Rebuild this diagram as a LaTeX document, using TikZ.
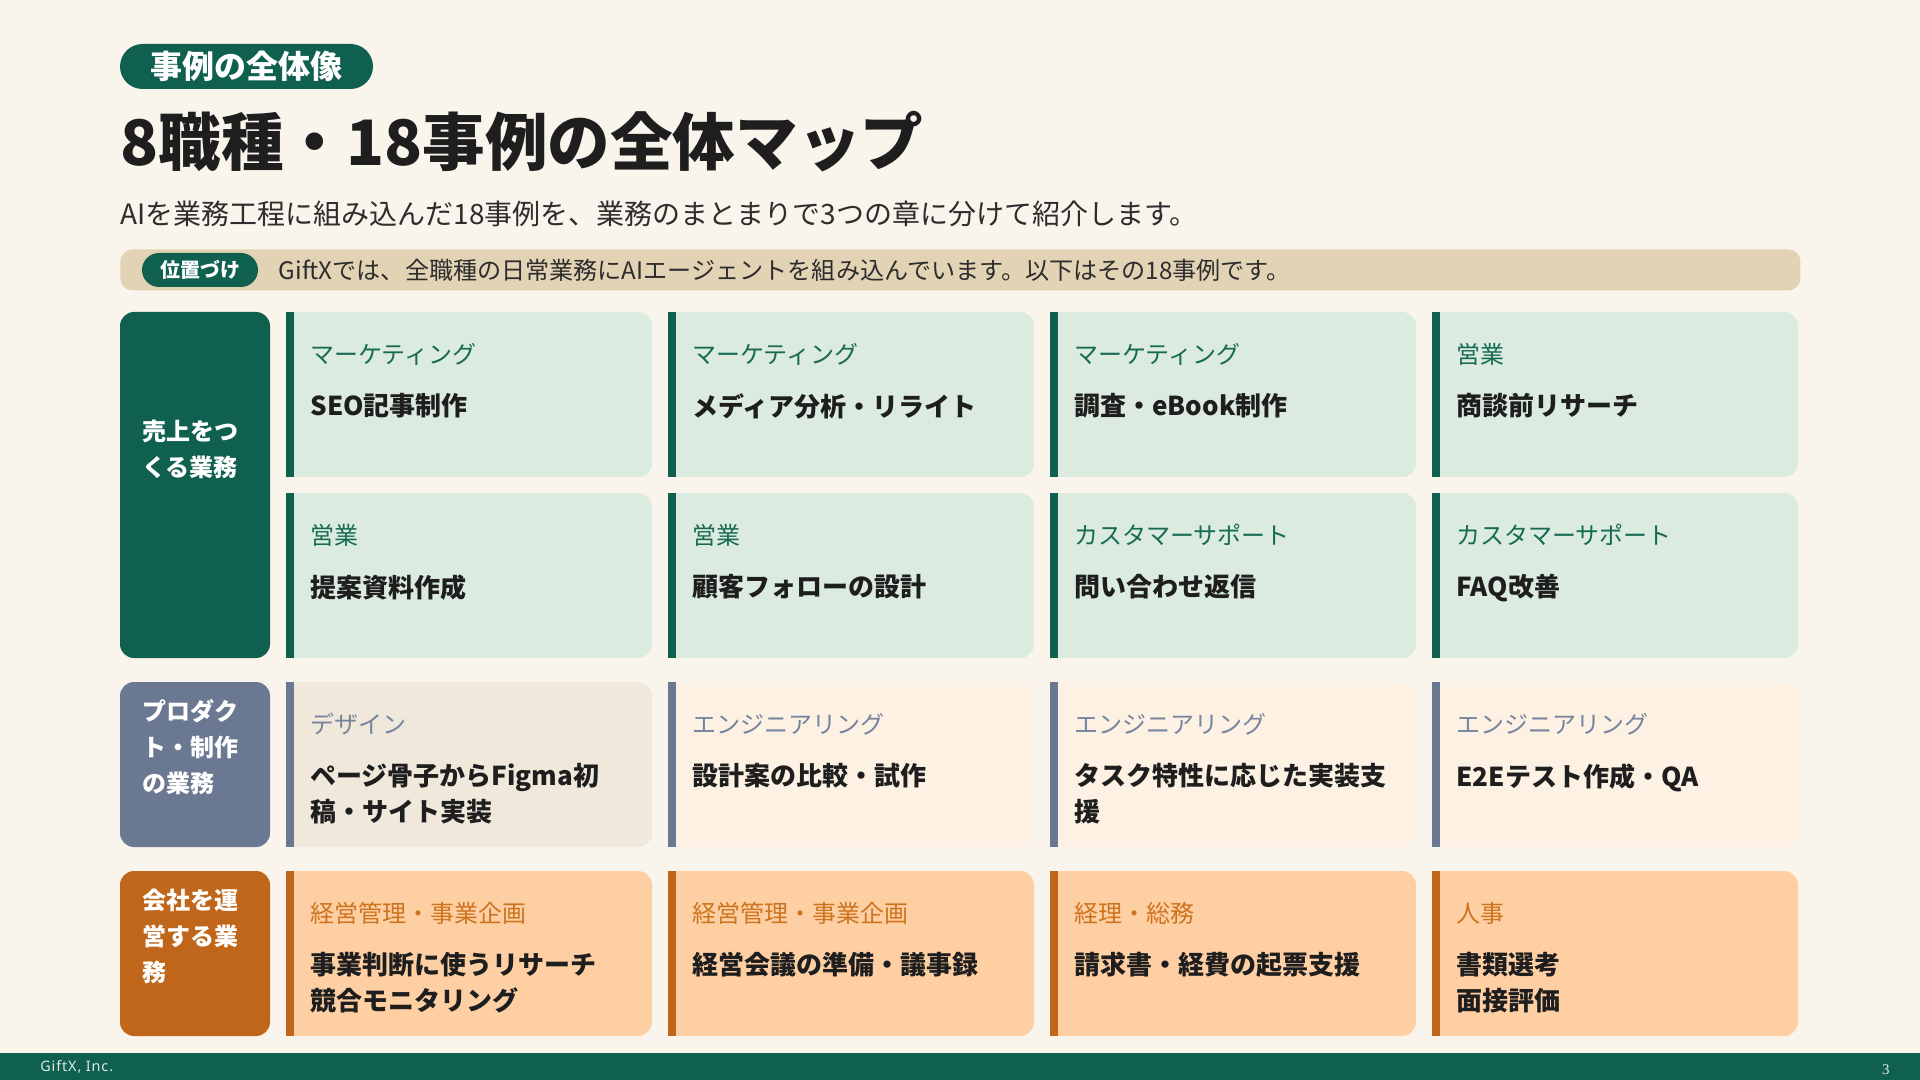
\documentclass[tikz,border=0pt]{standalone}
\usepackage{fontspec}
\setmainfont{Noto Sans CJK JP}
\newfontfamily\footfont[LetterSpace=6]{Noto Sans}
\newfontfamily\pagefont{Liberation Serif}
\usepackage{tikz}
\usetikzlibrary{
  positioning
}
\definecolor{bgcream}{RGB}{249,244,236}
\definecolor{brandgreen}{RGB}{16,96,80}
\definecolor{sandfill}{RGB}{227,211,181}
\definecolor{inktext}{RGB}{30,30,30}
\definecolor{subtext}{RGB}{45,45,45}
\definecolor{footink}{RGB}{222,234,228}
% one colour set per track
\definecolor{salesfill}{RGB}{219,235,223}
\definecolor{salesbar}{RGB}{16,96,80}
\definecolor{salesjob}{RGB}{22,106,84}
\definecolor{designfill}{RGB}{239,232,219}
\definecolor{designbar}{RGB}{106,121,145}
\definecolor{designjob}{RGB}{118,133,158}
\definecolor{engfill}{RGB}{253,241,227}
\definecolor{engbar}{RGB}{106,121,145}
\definecolor{engjob}{RGB}{118,133,158}
\definecolor{opsfill}{RGB}{255,207,164}
\definecolor{opsbar}{RGB}{192,102,26}
\definecolor{opsjob}{RGB}{204,116,30}
\tikzset{
  cardbox/.style={rounded corners=7pt, inner sep=0pt, outer sep=0pt,
    minimum width=183pt, minimum height=82.5pt},
  trackbox/.style={rounded corners=7pt, inner sep=0pt, outer sep=0pt,
    minimum width=75pt},
  tracktext/.style={inner sep=0pt, align=left, text=white,
    font=\fontsize{12}{18}\selectfont\bfseries},
  jobtext/.style={inner sep=0pt, font=\fontsize{12}{14}\selectfont},
  casetext/.style={inner sep=0pt, align=left, text=inktext,
    font=\fontsize{13}{18}\selectfont\bfseries},
  pill/.style={inner sep=0pt, text=white, fill=brandgreen},
}
% #1 name, #2 placement, #3 track, #4 job, #5 case
\newcommand{\casecard}[5]{%
  \node[cardbox, fill=#3fill, #2] (#1) {};
  \fill[#3fill] (#1.north west) rectangle ([xshift=10pt]#1.south west);
  \fill[#3bar] (#1.north west) rectangle ([xshift=4pt]#1.south west);
  \node[jobtext, text=#3job, anchor=west] (#1-job)
    at ([xshift=12pt, yshift=-21pt]#1.north west) {#4};
  \node[casetext, anchor=north west] (#1-case)
    at ([xshift=12pt, yshift=-40.5pt]#1.north west) {#5};
}

\begin{document}
\begin{tikzpicture}[x=0.5pt, y=-0.5pt]
  \fill[bgcream] (0,0) rectangle (1920,1080);
  \useasboundingbox (0,0) rectangle (1920,1080);

  % Header
  \node[pill, rounded corners=11.25pt, minimum width=126.5pt, minimum height=22.5pt,
        font=\fontsize{16}{16}\selectfont\bfseries] (chapter) at (246.5,66.5)
    {事例の全体像};
  \node[anchor=west, inner sep=0pt, text=inktext,
        font=\fontsize{31.3}{32}\selectfont\bfseries] (title) at (120,142)
    {8職種・18事例の全体マップ};
  \node[anchor=west, inner sep=0pt, text=subtext,
        font=\fontsize{14}{14}\selectfont] (lead) at (120,214)
    {AIを業務工程に組み込んだ18事例を、業務のまとまりで3つの章に分けて紹介します。};

  % Banner
  \node[fill=sandfill, rounded corners=6pt, anchor=north west, inner sep=0pt,
        minimum width=840pt, minimum height=20.5pt] (banner) at (120,249) {};
  \node[pill, rounded corners=8.5pt, minimum width=58pt, minimum height=17pt,
        font=\fontsize{10}{10}\selectfont\bfseries] (tag) at (200,270) {位置づけ};
  \node[right=10pt of tag, inner sep=0pt, text=subtext,
        font=\fontsize{12.05}{12}\selectfont] (note)
    {GiftXでは、全職種の日常業務にAIエージェントを組み込んでいます。以下はその18事例です。};

  % Sales rows
  \casecard{c11}{anchor=north west, at={(286,312)}}{sales}{マーケティング}{SEO記事制作}
  \casecard{c12}{right=8pt of c11}{sales}{マーケティング}{メディア分析・リライト}
  \casecard{c13}{right=8pt of c12}{sales}{マーケティング}{調査・eBook制作}
  \casecard{c14}{right=8pt of c13}{sales}{営業}{商談前リサーチ}
  \casecard{c21}{below=8pt of c11}{sales}{営業}{提案資料作成}
  \casecard{c22}{right=8pt of c21}{sales}{営業}{顧客フォローの設計}
  \casecard{c23}{right=8pt of c22}{sales}{カスタマーサポート}{問い合わせ返信}
  \casecard{c24}{right=8pt of c23}{sales}{カスタマーサポート}{FAQ改善}

  % Product row
  \casecard{c31}{below=12pt of c21}{design}{デザイン}{ページ骨子からFigma初\\稿・サイト実装}
  \casecard{c32}{right=8pt of c31}{eng}{エンジニアリング}{設計案の比較・試作}
  \casecard{c33}{right=8pt of c32}{eng}{エンジニアリング}{タスク特性に応じた実装支\\援}
  \casecard{c34}{right=8pt of c33}{eng}{エンジニアリング}{E2Eテスト作成・QA}

  % Operations row
  \casecard{c41}{below=12pt of c31}{ops}{経営管理・事業企画}{事業判断に使うリサーチ\\競合モニタリング}
  \casecard{c42}{right=8pt of c41}{ops}{経営管理・事業企画}{経営会議の準備・議事録}
  \casecard{c43}{right=8pt of c42}{ops}{経理・総務}{請求書・経費の起票支援}
  \casecard{c44}{right=8pt of c43}{ops}{人事}{書類選考\\面接評価}

  % Track labels
  \node[trackbox, fill=salesbar, minimum height=173pt, anchor=north east]
    (sales) at ([xshift=-8pt]c11.north west) {};
  \node[tracktext, anchor=north west] (sales-text)
    at ([xshift=11pt, yshift=-54pt]sales.north west) {売上をつ\\くる業務};
  \node[trackbox, fill=designbar, minimum height=82.5pt, left=8pt of c31]
    (product) {};
  \node[tracktext, anchor=north west] (product-text)
    at ([xshift=11pt, yshift=-8.5pt]product.north west) {プロダク\\ト・制作\\の業務};
  \node[trackbox, fill=opsbar, minimum height=82.5pt, left=8pt of c41]
    (ops) {};
  \node[tracktext, anchor=north west] (ops-text)
    at ([xshift=11pt, yshift=-9pt]ops.north west) {会社を運\\営する業\\務};

  % Footer
  \node[fill=brandgreen, inner sep=0pt, anchor=south west,
        minimum width=960pt, minimum height=13.5pt] (footer) at (0,1080) {};
  \node[anchor=west, inner sep=0pt, text=footink,
        font=\footfont\fontsize{7.2}{7.2}\selectfont] (company)
    at ([xshift=20pt, yshift=-0.5pt]footer.west) {GiftX, Inc.};
  \node[inner sep=0pt, text=footink,
        font=\pagefont\fontsize{7.5}{7.5}\selectfont] (page)
    at ([xshift=-17.5pt, yshift=-1.5pt]footer.east) {3};
\end{tikzpicture}
\end{document}
